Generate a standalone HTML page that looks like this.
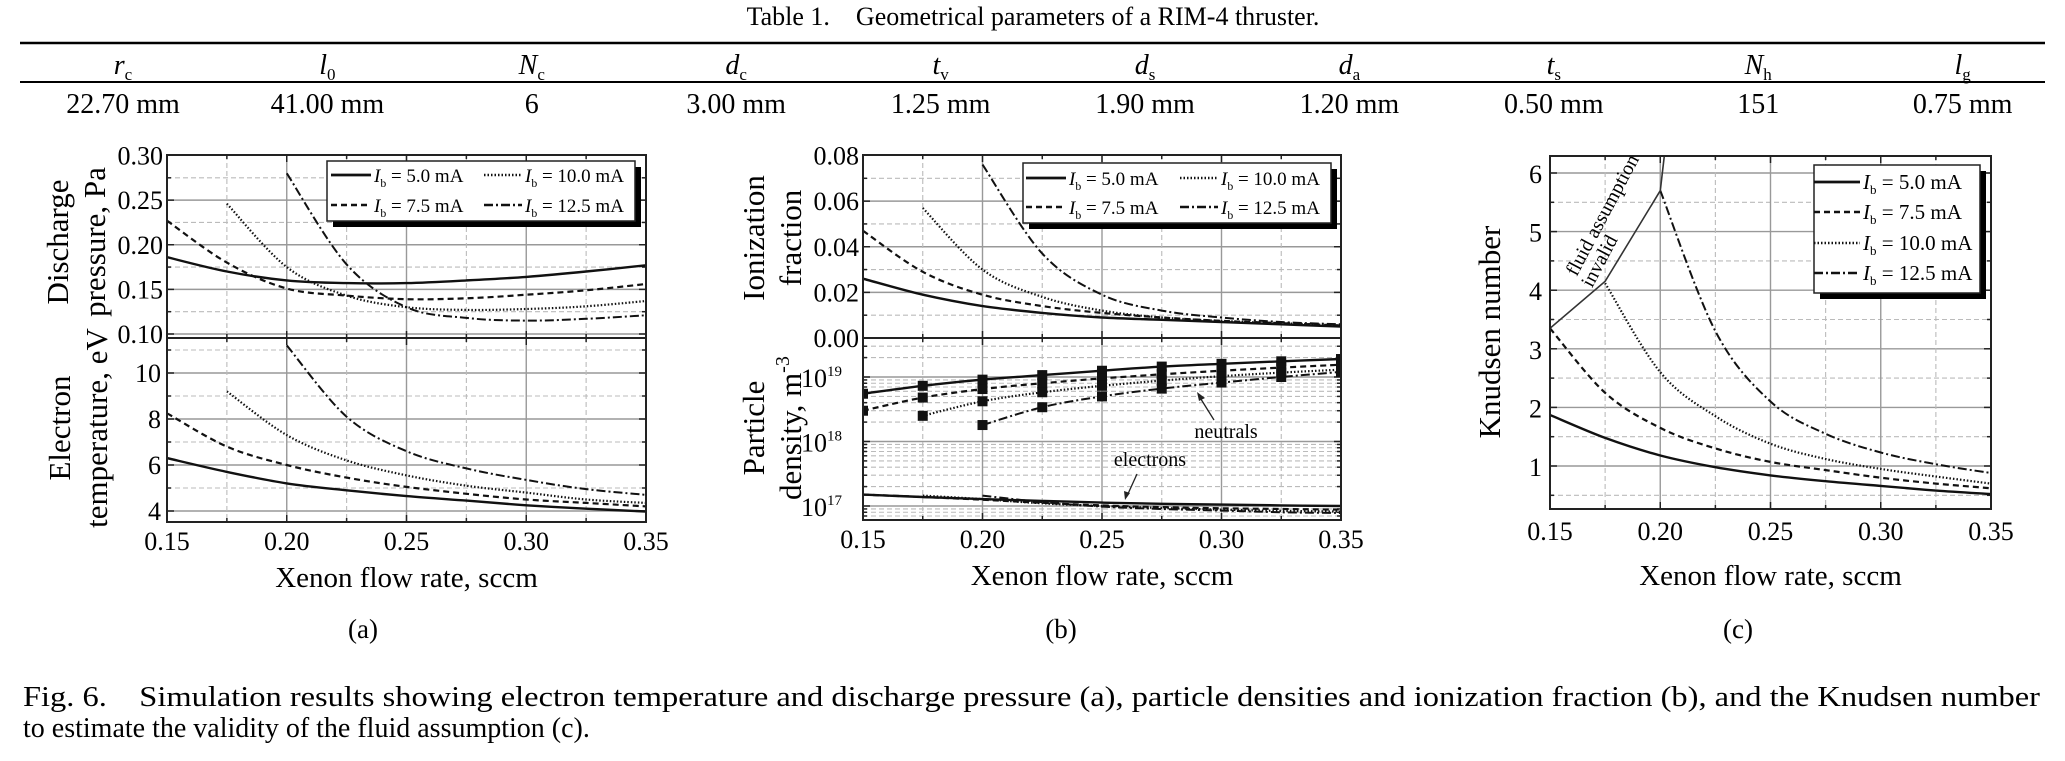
<!DOCTYPE html>
<html><head><meta charset="utf-8">
<style>
html,body{margin:0;padding:0;background:#fff;}
svg{display:block;font-family:"Liberation Serif",serif;}
</style></head>
<body>
<svg id="fig" xmlns="http://www.w3.org/2000/svg" width="2065" height="761" viewBox="0 0 2065 761" font-family="Liberation Serif, serif">
<defs>
<clipPath id="clipAtop"><rect x="167" y="155" width="479" height="183"/></clipPath>
<clipPath id="clipAbot"><rect x="167" y="338" width="479" height="184"/></clipPath>
<clipPath id="clipBtop"><rect x="863" y="155" width="478" height="183"/></clipPath>
<clipPath id="clipBbot"><rect x="863" y="338" width="478" height="182"/></clipPath>
<clipPath id="clipC"><rect x="1550" y="156" width="441" height="353"/></clipPath>
</defs>
<g>
<text x="1033" y="25" font-size="26" text-anchor="middle" xml:space="preserve">Table 1.    Geometrical parameters of a RIM-4 thruster.</text>
<line x1="20" y1="43" x2="2045" y2="43" stroke="#000" stroke-width="2.5"/>
<line x1="20" y1="82" x2="2045" y2="82" stroke="#000" stroke-width="2"/>
<g id="tbl" font-size="28" text-anchor="middle"></g>
</g>
<g id="plots"></g>
<text x="363" y="638" font-size="27" text-anchor="middle">(a)</text>
<text x="1061" y="638" font-size="27" text-anchor="middle">(b)</text>
<text x="1738" y="638" font-size="27" text-anchor="middle">(c)</text>
<text x="23" y="706" font-size="28" textLength="2017" lengthAdjust="spacingAndGlyphs" xml:space="preserve">Fig. 6.    Simulation results showing electron temperature and discharge pressure (a), particle densities and ionization fraction (b), and the Knudsen number</text>
<text x="23" y="737" font-size="28">to estimate the validity of the fluid assumption (c).</text>
</svg>
<script>
// ---------- data ----------
const tableSymbols = ["r|c","l|0","N|c","d|c","t|v","d|s","d|a","t|s","N|h","l|g"];
const tableValues = ["22.70 mm","41.00 mm","6","3.00 mm","1.25 mm","1.90 mm","1.20 mm","0.50 mm","151","0.75 mm"];

const flowRates = [0.15,0.175,0.20,0.225,0.25,0.275,0.30,0.325,0.35];
const currents = ["5.0","7.5","10.0","12.5"];
const xTicks = [0.15,0.20,0.25,0.30,0.35];

const pressure50 = [0.186,0.170,0.160,0.157,0.157,0.160,0.164,0.170,0.177];
const pressure75 = [0.227,0.180,0.151,0.143,0.139,0.140,0.144,0.149,0.156];
const pressure100 = [null,0.246,0.175,0.143,0.130,0.127,0.128,0.131,0.137];
const pressure125 = [null,null,0.280,0.178,0.130,0.118,0.115,0.117,0.121];
const pressureTicks = [0.10,0.15,0.20,0.25,0.30];

const temp50 = [6.3,5.7,5.2,4.9,4.65,4.45,4.25,4.1,3.98];
const temp75 = [8.25,6.8,6.0,5.45,5.05,4.75,4.5,4.35,4.2];
const temp100 = [null,9.2,7.3,6.2,5.55,5.1,4.8,4.5,4.35];
const temp125 = [null,null,11.2,8.1,6.6,5.85,5.35,4.95,4.7];
const tempTicks = [4,6,8,10];

const ion50 = [0.026,0.019,0.014,0.011,0.009,0.008,0.007,0.006,0.005];
const ion75 = [0.047,0.029,0.019,0.014,0.011,0.009,0.0075,0.0065,0.0055];
const ion100 = [null,0.057,0.030,0.018,0.012,0.009,0.0075,0.0065,0.0055];
const ion125 = [null,null,0.076,0.037,0.019,0.012,0.009,0.007,0.006];
const ionTicks = [0.00,0.02,0.04,0.06,0.08];

const neutral50 = [5.5e18,7.3e18,9.1e18,1.07e19,1.25e19,1.45e19,1.6e19,1.75e19,1.9e19];
const neutral75 = [3.0e18,4.8e18,6.5e18,8.0e18,9.5e18,1.1e19,1.25e19,1.4e19,1.55e19];
const neutral100 = [null,2.5e18,4.2e18,5.8e18,7.3e18,8.8e18,1.03e19,1.17e19,1.3e19];
const neutral125 = [null,null,1.8e18,3.4e18,5.0e18,6.6e18,8.2e18,1.0e19,1.2e19];
const electron50 = [1.5e17,1.38e17,1.28e17,1.2e17,1.13e17,1.08e17,1.05e17,1.02e17,1.0e17];
const electron75 = [1.5e17,1.38e17,1.25e17,1.12e17,1.02e17,0.96e17,0.92e17,0.9e17,0.88e17];
const electron100 = [null,1.45e17,1.28e17,1.1e17,1.0e17,0.93e17,0.88e17,0.84e17,0.82e17];
const electron125 = [null,null,1.45e17,1.15e17,0.98e17,0.9e17,0.85e17,0.8e17,0.78e17];
const densityTickExps = [17,18,19];

const knudsen50 = [1.87,1.48,1.18,0.98,0.84,0.74,0.66,0.58,0.52];
const knudsen75 = [3.35,2.25,1.65,1.30,1.07,0.93,0.80,0.70,0.62];
const knudsen100 = [null,4.12,2.6,1.85,1.38,1.12,0.95,0.82,0.70];
const knudsen125 = [null,null,5.7,3.3,2.1,1.55,1.23,1.03,0.88];
const boundaryX = [0.15,0.175,0.20,0.204];
const boundaryY = [3.35,4.15,5.7,7.0];
const knudsenTicks = [1,2,3,4,5,6];

// ---------- helpers ----------
const NS = "http://www.w3.org/2000/svg";
const root = document.getElementById('plots');
function mk(tag, attrs, parent){
  const e = document.createElementNS(NS, tag);
  for (const k in attrs) e.setAttribute(k, attrs[k]);
  (parent||root).appendChild(e);
  return e;
}
const styles = [
  {w:2.4, dash:null},
  {w:2.2, dash:"6,4"},
  {w:2.2, dash:"1.5,2"},
  {w:2.0, dash:"9,3,2,3"}
];
function linScale(d0,d1,r0,r1){ return v => r0 + (v-d0)/(d1-d0)*(r1-r0); }
function smoothPath(pts){
  if (pts.length<2) return "";
  let d = "M"+pts[0][0].toFixed(1)+","+pts[0][1].toFixed(1);
  for (let i=0;i<pts.length-1;i++){
    const p0=pts[i-1]||pts[i], p1=pts[i], p2=pts[i+1], p3=pts[i+2]||p2;
    const c1=[p1[0]+(p2[0]-p0[0])/6, p1[1]+(p2[1]-p0[1])/6];
    const c2=[p2[0]-(p3[0]-p1[0])/6, p2[1]-(p3[1]-p1[1])/6];
    d += " C"+c1[0].toFixed(1)+","+c1[1].toFixed(1)+" "+c2[0].toFixed(1)+","+c2[1].toFixed(1)+" "+p2[0].toFixed(1)+","+p2[1].toFixed(1);
  }
  return d;
}
function drawSeries(g, xsArr, ysArr, xs, ys, si, clip, name){
  const pts=[];
  for (let i=0;i<xsArr.length;i++){ if (ysArr[i]!==null && ysArr[i]!==undefined) pts.push([xs(xsArr[i]), ys(ysArr[i])]); }
  const p = mk('path', {d:smoothPath(pts), fill:"none", stroke:"#111", "stroke-width":styles[si].w, "clip-path":"url(#"+clip+")"}, g);
  if (styles[si].dash) p.setAttribute('stroke-dasharray', styles[si].dash);
  
  
  return pts;
}
function frame(g, L,T,R,B, name){
  const r = mk('rect',{x:L,y:T,width:R-L,height:B-T,fill:"none",stroke:"#222","stroke-width":2},g);
  
  
}
function hgrid(g,L,R,y,major){
  const l = mk('line',{x1:L,x2:R,y1:y,y2:y,stroke:major?"#999":"#bbb","stroke-width":major?1.4:1.1},g);
  if(!major) l.setAttribute('stroke-dasharray','5,3');
  
  
  mk('line',{x1:L,x2:L+(major?7:4),y1:y,y2:y,stroke:"#222","stroke-width":1.5},g);
  mk('line',{x1:R,x2:R-(major?7:4),y1:y,y2:y,stroke:"#222","stroke-width":1.5},g);
}
function vgrid(g,x,T,B,major){
  const l = mk('line',{x1:x,x2:x,y1:T,y2:B,stroke:major?"#999":"#bbb","stroke-width":major?1.4:1.1},g);
  if(!major) l.setAttribute('stroke-dasharray','5,3');
  
  
  mk('line',{x1:x,x2:x,y1:B,y2:B-(major?7:4),stroke:"#222","stroke-width":1.5},g);
  mk('line',{x1:x,x2:x,y1:T,y2:T+(major?7:4),stroke:"#222","stroke-width":1.5},g);
}
function txt(g, s, x, y, size, anchor, name, extra){
  const t = mk('text', Object.assign({x:x,y:y,"font-size":size,"text-anchor":anchor||"middle"}, extra||{}), g);
  t.textContent = s;
  
  
  return t;
}
function vlabel(g, lines, cx, cy, size, name){
  const t = mk('text',{transform:"translate("+cx+","+cy+") rotate(-90)","font-size":size,"text-anchor":"middle"},g);
  
  
  lines.forEach((ln,i)=>{
    const ts = mk('tspan',{x:0,dy:i===0?0:size*1.2},t);
    if (Array.isArray(ln)){ ts.textContent = ln[0]; const sup = mk('tspan',{"font-size":size*0.65,dy:-size*0.4},t); sup.textContent = ln[1]; }
    else ts.textContent = ln;
  });
  return t;
}
function xAxisLabels(g, xs, B, ty){
  xTicks.forEach(v=>{ txt(g, v.toFixed(2), xs(v), ty, 26, "middle", "x-tick-label"); });
}
function legendEntry(g, x, y, si, label, lineLen, fs){
  const e = mk('g',{},g);
  
  
  const l = mk('line',{x1:x,x2:x+lineLen,y1:y,y2:y,stroke:"#111","stroke-width":styles[si].w+0.4},e);
  if (styles[si].dash) l.setAttribute('stroke-dasharray', styles[si].dash);
  const t = mk('text',{x:x+lineLen+3,y:y+7,"font-size":fs},e);
  const a = mk('tspan',{"font-style":"italic"},t); a.textContent="I";
  const b = mk('tspan',{"font-size":fs*0.62,dy:5},t); b.textContent="b";
  const c = mk('tspan',{dy:-5},t); c.textContent=" = "+label+" mA";
}
function legend(g, L,T,R,B, rows, name, fs){
  const lg = mk('g',{},g);
  
  
  mk('rect',{x:L+6,y:T+6,width:R-L,height:B-T,fill:"#000"},lg);
  mk('rect',{x:L,y:T,width:R-L,height:B-T,fill:"#fff",stroke:"#222","stroke-width":1.5},lg);
  rows.forEach(r=>legendEntry(lg, r[0], r[1], r[2], currents[r[2]], r[3], fs));
}

// ---------- table ----------
const tbl = document.getElementById('tbl');
tableSymbols.forEach((s,i)=>{
  const cx = 123 + i*204.4;
  const parts = s.split("|");
  const t = mk('text',{x:cx,y:74},tbl);
  
  
  const a = mk('tspan',{"font-style":"italic"},t); a.textContent = parts[0];
  const b = mk('tspan',{"font-size":17,dy:6},t); b.textContent = parts[1];
  const v = mk('text',{x:cx,y:113},tbl);
  v.textContent = tableValues[i];
  
  
});

// ---------- panel (a) ----------
(function(){
  const g = mk('g',{});  
  const L=167,R=646,T=155,M=338,B=522;
  const xs = linScale(0.15,0.35,L,R);
  const ysP = linScale(0.10,0.30,334,155.5);
  const ysT = linScale(4,10,511,373);
  for (let v=0.10; v<=0.3001; v+=0.025){ const y=ysP(v); if (y>T+1 && y<M-1) hgrid(g,L,R,y,Math.abs(v*20-Math.round(v*20))<1e-6); }
  for (let v=4; v<=11; v+=1){ const y=ysT(v); if (y>M+1 && y<B-1) hgrid(g,L,R,y,v%2===0); }
  for (let v=0.175; v<0.35; v+=0.025){ vgrid(g,xs(v),T,M,Math.abs(v*20-Math.round(v*20))<1e-6); vgrid(g,xs(v),M,B,Math.abs(v*20-Math.round(v*20))<1e-6); }
  [pressure50,pressure75,pressure100,pressure125].forEach((s,i)=>drawSeries(g,flowRates,s,xs,ysP,i,"clipAtop","pressure-curve-"+currents[i]+"mA"));
  [temp50,temp75,temp100,temp125].forEach((s,i)=>drawSeries(g,flowRates,s,xs,ysT,i,"clipAbot","temperature-curve-"+currents[i]+"mA"));
  frame(g,L,T,R,M,"pressure-plot-frame"); frame(g,L,M,R,B,"temperature-plot-frame");
  pressureTicks.forEach(v=>txt(g,v.toFixed(2),L-4,ysP(v)+9,26,"end","y-tick-label"));
  tempTicks.forEach(v=>txt(g,String(v),L-6,ysT(v)+9,26,"end","y-tick-label"));
  xAxisLabels(g,xs,B,550);
  vlabel(g,["Discharge","pressure, Pa"],68,242,31,"pressure-axis-title");
  vlabel(g,["Electron","temperature, eV"],70,428,31,"temperature-axis-title");
  txt(g,"Xenon flow rate, sccm",(L+R)/2,587,29,"middle","x-axis-title");
  legend(g,327,161,635,221,[[331,175,0,40],[484,175,2,38],[331,205,1,40],[484,205,3,38]],"legend-a",19);
})();

// ---------- panel (b) ----------
(function(){
  const g = mk('g',{});  
  const L=863,R=1341,T=155,M=338,B=520;
  const xs = linScale(0.15,0.35,L,R);
  const ysI = linScale(0,0.08,338,155.5);
  const ysDlog = linScale(17,19,506,377);
  const ysD = v => ysDlog(Math.log10(v));
  for (let v=0.01; v<0.08; v+=0.01){ hgrid(g,L,R,ysI(v),Math.round(v*100)%2===0); }
  for (let e=16; e<=19; e++){ for (let m=1;m<10;m++){ const y=ysD(m*Math.pow(10,e)); if (y>M+1 && y<B-1) hgrid(g,L,R,y,m===1); } }
  for (let v=0.175; v<0.35; v+=0.025){ const maj=Math.abs(v*20-Math.round(v*20))<1e-6; vgrid(g,xs(v),T,M,maj); vgrid(g,xs(v),M,B,maj); }
  [ion50,ion75,ion100,ion125].forEach((s,i)=>drawSeries(g,flowRates,s,xs,ysI,i,"clipBtop","ionization-curve-"+currents[i]+"mA"));
  [neutral50,neutral75,neutral100,neutral125].forEach((s,i)=>{
    const pts = drawSeries(g,flowRates,s,xs,ysD,i,"clipBbot","neutral-density-curve-"+currents[i]+"mA");
    pts.forEach(p=>{
      const r = mk('rect',{x:p[0]-5,y:p[1]-5,width:10,height:10,fill:"#111","clip-path":"url(#clipBbot)"},g);
      
      
    });
  });
  [electron50,electron75,electron100,electron125].forEach((s,i)=>drawSeries(g,flowRates,s,xs,ysD,i,"clipBbot","electron-density-curve-"+currents[i]+"mA"));
  frame(g,L,T,R,M,"ionization-plot-frame"); frame(g,L,M,R,B,"density-plot-frame");
  ionTicks.forEach(v=>txt(g,v.toFixed(2),L-4,ysI(v)+9,26,"end","y-tick-label"));
  densityTickExps.forEach(e=>{
    const t = txt(g,"10",L-21,ysDlog(e)+10,26,"end","y-tick-label");
    const s = mk('tspan',{"font-size":15,dy:-11},t); s.textContent=String(e);
  });
  xAxisLabels(g,xs,B,548);
  vlabel(g,["Ionization","fraction"],764,238,31,"ionization-axis-title");
  vlabel(g,["Particle",["density, m","-3"]],764,428,31,"density-axis-title");
  txt(g,"Xenon flow rate, sccm",(L+R)/2,585,29,"middle","x-axis-title");
  txt(g,"neutrals",1226,438,20,"middle","neutrals-annotation");
  mk('line',{x1:1214,y1:420,x2:1199,y2:396,stroke:"#222","stroke-width":1.3},g);
  mk('path',{d:"M1197,392 L1205,398 L1199,401 Z",fill:"#222"},g);
  txt(g,"electrons",1150,466,20,"middle","electrons-annotation");
  mk('line',{x1:1137,y1:474,x2:1127,y2:496,stroke:"#222","stroke-width":1.3},g);
  mk('path',{d:"M1125,500 L1124,491 L1130,493 Z",fill:"#222"},g);
  legend(g,1023,163,1331,223,[[1026,178,0,40],[1180,178,2,38],[1026,207,1,40],[1180,207,3,38]],"legend-b",19);
})();

// ---------- panel (c) ----------
(function(){
  const g = mk('g',{});  
  const L=1550,R=1991,T=156,B=509;
  const xs = linScale(0.15,0.35,L,R);
  const ys = linScale(1,6,466,173);
  for (let v=0.5; v<=6.01; v+=0.5){ hgrid(g,L,R,ys(v),Math.abs(v-Math.round(v))<1e-6); }
  for (let v=0.175; v<0.35; v+=0.025){ vgrid(g,xs(v),T,B,Math.abs(v*20-Math.round(v*20))<1e-6); }
  [knudsen50,knudsen75,knudsen100,knudsen125].forEach((s,i)=>drawSeries(g,flowRates,s,xs,ys,i,"clipC","knudsen-curve-"+currents[i]+"mA"));
  let d=""; boundaryX.forEach((v,i)=>{ d += (i?" L":"M")+xs(v).toFixed(1)+","+ys(boundaryY[i]).toFixed(1); });
  const bl = mk('path',{d:d,fill:"none",stroke:"#333","stroke-width":1.6,"clip-path":"url(#clipC)"},g);
  
  
  frame(g,L,T,R,B,"knudsen-plot-frame");
  knudsenTicks.forEach(v=>txt(g,String(v),L-8,ys(v)+10,26,"end","y-tick-label"));
  xAxisLabels(g,xs,B,540);
  vlabel(g,["Knudsen number"],1500,332,31,"knudsen-axis-title");
  txt(g,"Xenon flow rate, sccm",(L+R)/2,585,29,"middle","x-axis-title");
  txt(g,"fluid assumption",1608,218,20,"middle","fluid-assumption-annotation",{transform:"rotate(-62 1608 218)"});
  txt(g,"invalid",1605,264,20,"middle","invalid-annotation",{transform:"rotate(-62 1605 264)"});
  legend(g,1814,165,1980,293,[[1814,182,0,46],[1814,212,1,46],[1814,243,2,46],[1814,273,3,46]],"legend-c",21);
})();
</script>
</body></html>
